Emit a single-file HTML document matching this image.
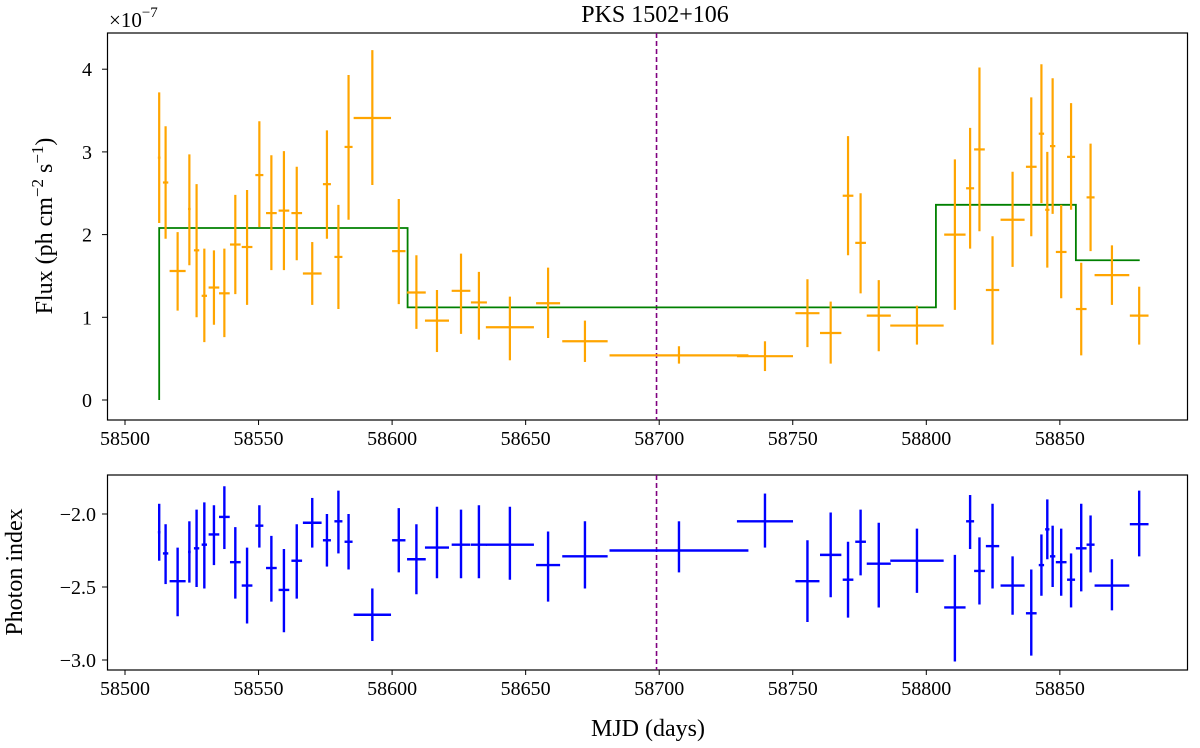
<!DOCTYPE html>
<html><head><meta charset="utf-8"><style>
body{margin:0;background:#fff}
svg{display:block;font-family:"Liberation Serif",serif}
</style></head><body>
<svg id="chart" width="1200" height="748" viewBox="0 0 1200 748">
<text x="655" y="22" text-anchor="middle" font-size="24">PKS 1502+106</text>
<text x="109" y="27" font-size="21">×10<tspan dy="-10" font-size="15">−7</tspan></text>
<text transform="translate(52,226) rotate(-90)" text-anchor="middle" font-size="24">Flux (ph cm<tspan dy="-9" font-size="17">−2</tspan><tspan dy="9"> s</tspan><tspan dy="-9" font-size="17">−1</tspan><tspan dy="9">)</tspan></text>
<text transform="translate(22,572) rotate(-90)" text-anchor="middle" font-size="24">Photon index</text>
<text x="648" y="736" text-anchor="middle" font-size="24">MJD (days)</text>
<g id="top"></g><g id="bot"></g>
</svg>
<script>
const mjd=[58512.8,58515.2,58519.7,58524.1,58526.8,58529.7,58533.3,58537.2,58541.3,58545.7,58550.3,58554.8,58559.5,58564.3,58570.1,58575.6,58579.9,58583.7,58592.6,58602.5,58609.1,58616.8,58625.8,58632.5,58644.1,58658.4,58672.2,58707.4,58739.6,58755.5,58764.2,58770.7,58775.4,58782.2,58796.5,58810.7,58816.4,58819.9,58824.8,58832.3,58839.3,58843.1,58845.3,58847.3,58850.5,58854.2,58858.0,58861.5,58869.5,58879.7];
const halfWidth=[0.5,1,3,0.5,1,1,2,2,2,2,1.5,2,2,2,3.5,1.5,1.5,1.5,7,2.5,3.5,4.5,3.5,3,9,4.5,8.5,26,10.5,4.5,4,2,2,4.5,10,4,1.5,2,2.5,4.5,2,1,0.8,1,2,1.5,2,1.5,6.5,3.5];
const flux=[2.93,2.63,1.56,2.31,1.81,1.26,1.36,1.29,1.88,1.85,2.72,2.26,2.29,2.26,1.53,2.61,1.73,3.06,3.41,1.80,1.30,0.96,1.32,1.18,0.88,1.17,0.71,0.54,0.53,1.05,0.81,2.47,1.90,1.02,0.90,2.00,2.56,3.03,1.33,2.18,2.82,3.22,2.30,3.07,1.79,2.94,1.10,2.45,1.51,1.02];
const fluxHi=[3.72,3.31,2.03,2.97,2.61,1.83,1.81,1.83,2.48,2.54,3.37,2.96,3.01,2.82,1.91,3.26,2.36,3.93,4.23,2.43,1.75,1.33,1.77,1.55,1.25,1.60,0.96,0.65,0.71,1.46,1.19,3.19,2.50,1.45,1.14,2.91,3.29,4.02,1.98,2.76,3.66,4.06,3.00,3.89,2.36,3.59,1.66,3.10,1.87,1.37];
const fluxLo=[2.14,1.95,1.08,1.63,1.00,0.70,0.91,0.76,1.28,1.15,2.09,1.57,1.57,1.69,1.15,1.95,1.10,2.18,2.60,1.16,0.86,0.58,0.80,0.73,0.48,0.75,0.46,0.44,0.35,0.64,0.44,1.75,1.29,0.59,0.67,1.09,1.83,2.04,0.67,1.61,1.98,2.38,1.60,2.25,1.23,2.30,0.54,1.80,1.15,0.67];
const photonIndex=[-2.125,-2.27,-2.46,-2.26,-2.235,-2.21,-2.14,-2.02,-2.33,-2.49,-2.08,-2.37,-2.52,-2.32,-2.06,-2.18,-2.05,-2.19,-2.69,-2.18,-2.31,-2.23,-2.21,-2.21,-2.21,-2.35,-2.29,-2.25,-2.05,-2.46,-2.28,-2.45,-2.19,-2.34,-2.32,-2.64,-2.05,-2.39,-2.22,-2.49,-2.68,-2.35,-2.105,-2.29,-2.33,-2.45,-2.235,-2.21,-2.49,-2.07];
const indexHi=[-1.93,-2.07,-2.23,-2.05,-1.97,-1.92,-1.94,-1.81,-2.09,-2.23,-1.94,-2.15,-2.24,-2.07,-1.89,-2.00,-1.84,-2.00,-2.51,-1.96,-2.07,-1.95,-1.97,-1.94,-1.95,-2.12,-2.05,-2.05,-1.86,-2.18,-1.99,-2.19,-1.97,-2.06,-2.10,-2.28,-1.87,-2.16,-1.93,-2.29,-2.38,-2.14,-1.90,-2.08,-2.10,-2.27,-1.93,-2.01,-2.31,-1.84];
const indexLo=[-2.32,-2.48,-2.70,-2.47,-2.50,-2.51,-2.35,-2.24,-2.58,-2.75,-2.23,-2.60,-2.81,-2.58,-2.23,-2.36,-2.27,-2.38,-2.87,-2.40,-2.55,-2.44,-2.44,-2.44,-2.45,-2.60,-2.51,-2.40,-2.23,-2.74,-2.57,-2.71,-2.42,-2.64,-2.54,-3.01,-2.24,-2.62,-2.51,-2.69,-2.97,-2.56,-2.31,-2.50,-2.56,-2.64,-2.53,-2.40,-2.66,-2.29];
const blockEdges=[58512.8,58605.8,58803.6,58856.0,58879.9];
const blockFlux=[2.08,1.12,2.36,1.69];
const markerMJD=58699;
const xTicks=[58500,58550,58600,58650,58700,58750,58800,58850];
const fluxTicks=[0,1,2,3,4];
const indexTicks=[-2.0,-2.5,-3.0];

const NS="http://www.w3.org/2000/svg";
const xs=v=>125+(v-58500)*2.671;
const yTop=v=>400-82.7*v;
const yBot=v=>514-(v+2)*146;
function mk(parent,tag,attrs){const e=document.createElementNS(NS,tag);for(const k in attrs)e.setAttribute(k,attrs[k]);parent.appendChild(e);return e;}
const topG=document.getElementById('top'),botG=document.getElementById('bot');

function frame(g,y0,y1,name){
  const r=mk(g,'rect',{x:107.5,y:y0,width:1080,height:y1-y0,fill:'none',stroke:'#000','stroke-width':1.2});
  
  
  xTicks.forEach(t=>{
    const tk=mk(g,'line',{x1:xs(t),x2:xs(t),y1:y1,y2:y1+5,stroke:'#000','stroke-width':1});
    
    
    const lb=mk(g,'text',{x:xs(t),y:y1+25,'text-anchor':'middle','font-size':20});
    lb.textContent=t;
    
    
  });
  const d=mk(g,'line',{x1:xs(markerMJD),x2:xs(markerMJD),y1:y0,y2:y1,stroke:'#800080','stroke-width':1.6,'stroke-dasharray':'5,3'});
  
  
}
frame(topG,33,420,'flux-plot-frame');
frame(botG,475,670,'index-plot-frame');

fluxTicks.forEach(t=>{
  const tk=mk(topG,'line',{x1:102,x2:107,y1:yTop(t),y2:yTop(t),stroke:'#000'});
  
  
  const lb=mk(topG,'text',{x:92,y:yTop(t)+7,'text-anchor':'end','font-size':20});
  lb.textContent=t;
  
  
});
indexTicks.forEach(t=>{
  const tk=mk(botG,'line',{x1:102,x2:107,y1:yBot(t),y2:yBot(t),stroke:'#000'});
  
  
  const lb=mk(botG,'text',{x:96,y:yBot(t)+7,'text-anchor':'end','font-size':20});
  lb.textContent='−'+Math.abs(t).toFixed(1);
  
  
});

let pts=[[xs(blockEdges[0]),yTop(0)]];
blockFlux.forEach((f,i)=>{pts.push([xs(blockEdges[i]),yTop(f)]);pts.push([xs(blockEdges[i+1]),yTop(f)]);});
const bb=mk(topG,'polyline',{points:pts.map(p=>p.join(',')).join(' '),fill:'none',stroke:'#008000','stroke-width':1.8});



mjd.forEach((m,i)=>{
  const g=mk(topG,'g',{stroke:'#ffa500','stroke-width':2.2});
  
  
  mk(g,'line',{x1:xs(m),x2:xs(m),y1:yTop(fluxLo[i]),y2:yTop(fluxHi[i])});
  mk(g,'line',{x1:xs(m-halfWidth[i]),x2:xs(m+halfWidth[i]),y1:yTop(flux[i]),y2:yTop(flux[i])});
  const h=mk(botG,'g',{stroke:'#0000ff','stroke-width':2.4});
  
  
  mk(h,'line',{x1:xs(m),x2:xs(m),y1:yBot(indexLo[i]),y2:yBot(indexHi[i])});
  mk(h,'line',{x1:xs(m-halfWidth[i]),x2:xs(m+halfWidth[i]),y1:yBot(photonIndex[i]),y2:yBot(photonIndex[i])});
});
</script>
</body></html>
